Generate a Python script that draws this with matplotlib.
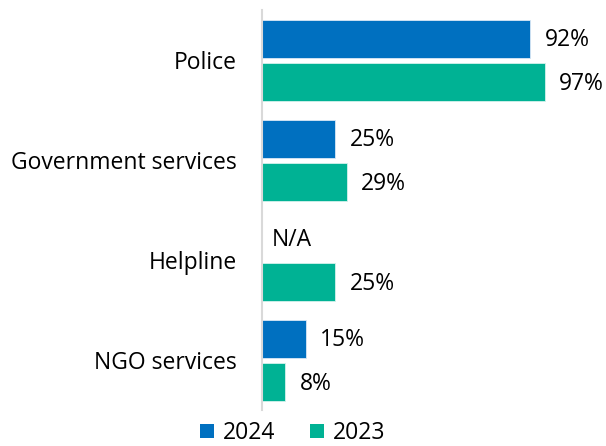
import matplotlib
matplotlib.use("Agg")
import matplotlib.pyplot as plt
import numpy as np
from matplotlib.patches import Patch

categories = ["Police", "Government services", "Helpline", "NGO services"]
values_2024 = [92, 25, None, 15]
values_2023 = [97, 29, 25, 8]
labels_2024 = ["92%", "25%", "N/A", "15%"]
labels_2023 = ["97%", "29%", "25%", "8%"]

BLUE = "#0070C0"
TEAL = "#00B294"

plt.rcParams["font.family"] = ["Open Sans", "DejaVu Sans"]
FS = 16.5

fig = plt.figure(figsize=(6.06, 4.46), dpi=100)
ax = fig.add_axes([262 / 606, 36 / 446, 344 / 606, 400 / 446])

y = np.arange(len(categories))
h = 0.38
off = 0.215

for i, (v24, v23) in enumerate(zip(values_2024, values_2023)):
    if v24 is not None:
        ax.barh(y[i] - off, v24, height=h, color=BLUE, edgecolor="#d9e8f5", linewidth=0.6)
        ax.text(v24 + 5, y[i] - off + 0.02, labels_2024[i], va="center", ha="left", fontsize=FS)
    else:
        ax.text(3.5, y[i] - off + 0.02, labels_2024[i], va="center", ha="left", fontsize=FS)
    ax.barh(y[i] + off, v23, height=h, color=TEAL, edgecolor="#d5f2ec", linewidth=0.6)
    ax.text(v23 + 5, y[i] + off + 0.02, labels_2023[i], va="center", ha="left", fontsize=FS)

ax.set_xlim(0, 118)
ax.set_ylim(3.5, -0.5)
ax.set_yticks(y)
ax.set_yticklabels(categories, fontsize=FS)
ax.tick_params(axis="y", length=0, pad=18)
ax.set_xticks([])
for side in ["top", "right", "bottom"]:
    ax.spines[side].set_visible(False)
ax.spines["left"].set_color("#d9d9d9")
ax.spines["left"].set_linewidth(1.5)

handles = [Patch(facecolor=BLUE, label="2024"), Patch(facecolor=TEAL, label="2023")]
fig.legend(handles=handles, loc="center", bbox_to_anchor=(293 / 606, 1 - 433 / 446),
           ncol=2, frameon=False, fontsize=FS, handlelength=0.6, handleheight=0.6,
           handletextpad=0.4, columnspacing=1.5)

fig.savefig("out.png", dpi=100)
